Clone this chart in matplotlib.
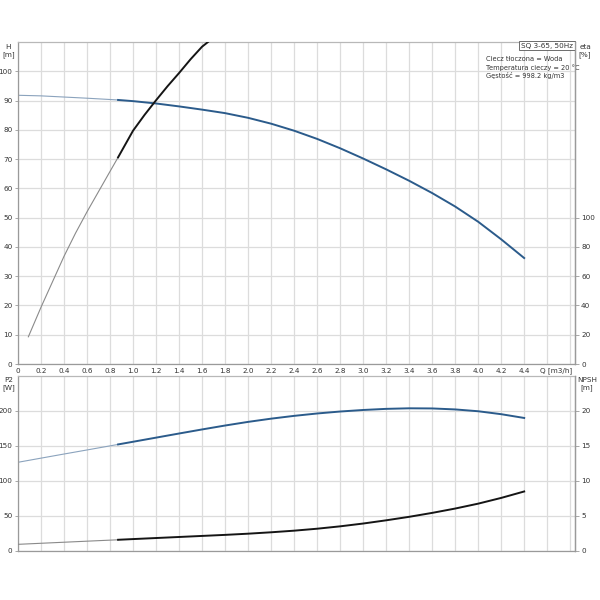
import numpy as np
import matplotlib
matplotlib.use("Agg")
import matplotlib.pyplot as plt

plt.rcParams['font.family'] = ['DejaVu Sans']

# ---------------- data ----------------
# Q-H curve (m)
q_h = [0.0, 0.2, 0.4, 0.6, 0.87, 1.0, 1.2, 1.4, 1.6, 1.8, 2.0, 2.2, 2.4, 2.6,
       2.8, 3.0, 3.2, 3.4, 3.6, 3.8, 4.0, 4.2, 4.4]
h_vals = [91.8, 91.6, 91.2, 90.8, 90.2, 89.8, 89.0, 88.0, 86.9, 85.7, 84.1, 82.1,
          79.7, 76.9, 73.7, 70.2, 66.5, 62.6, 58.4, 53.8, 48.6, 42.6, 36.2]

# efficiency curve (%), right axis of the top panel
q_eta = [0.09, 0.2, 0.4, 0.5, 0.6, 0.8, 0.87, 1.0, 1.1, 1.2, 1.3, 1.4, 1.5, 1.6, 1.7]
eta_vals = [18.6, 38.8, 73.6, 89.4, 104.0, 131.6, 141.2, 159.4, 170.2, 180.2,
            189.8, 198.8, 208.2, 216.8, 223.0]

# power P2 (W)
q_p = [0.0, 0.2, 0.4, 0.6, 0.87, 1.0, 1.2, 1.4, 1.6, 1.8, 2.0, 2.2, 2.4, 2.6,
       2.8, 3.0, 3.2, 3.4, 3.6, 3.8, 4.0, 4.2, 4.4]
p2_vals = [126.7, 132.6, 138.5, 144.3, 152.2, 156.0, 161.9, 167.8, 173.6, 179.2,
           184.4, 189.0, 193.0, 196.4, 199.2, 201.4, 203.0, 203.8, 203.6, 202.2,
           199.6, 195.4, 190.0]

# NPSH (m)
npsh_vals = [0.95, 1.1, 1.25, 1.4, 1.6, 1.7, 1.85, 2.0, 2.15, 2.3, 2.47, 2.67,
             2.9, 3.18, 3.52, 3.92, 4.38, 4.88, 5.44, 6.06, 6.76, 7.58, 8.5]

q_split = 0.87  # start of the recommended (thick) range

x_ticks = [round(0.2 * i, 1) for i in range(25)]
x_labels = ["0" if v == 0 else (f"{v:.1f}" if v <= 4.4 else "") for v in x_ticks]
h_ticks = list(range(0, 101, 10))
eta_ticks = list(range(0, 101, 20))
p2_ticks = [0, 50, 100, 150, 200]
npsh_ticks = [0, 5, 10, 15, 20]

# ---------------- style ----------------
BLUE = '#2b5b8b'
BLUE_THIN = '#8ba3bd'
BLACK = '#151515'
GREY_THIN = '#8a8a8a'
GRID = '#dcdcdc'
SPINE = '#9a9a9a'
TXT = '#333333'
FS = 5.2


def split(q, v):
    q = np.asarray(q); v = np.asarray(v)
    a = q <= q_split + 1e-9
    b = q >= q_split - 1e-9
    return (q[a], v[a]), (q[b], v[b])


def style_axes(ax):
    ax.set_xlim(0, 4.84)
    ax.set_xticks(x_ticks)
    ax.grid(True, color=GRID, linewidth=0.9)
    ax.set_axisbelow(True)
    for s in ax.spines.values():
        s.set_color(SPINE)
        s.set_linewidth(0.9)
    ax.spines['top'].set_color('#b8b8b8')
    ax.tick_params(axis='both', labelsize=FS, colors=TXT, length=2.5,
                   width=0.6, pad=1.5)
    ax.tick_params(axis='both', color=SPINE)


fig = plt.figure(figsize=(6, 6), dpi=100)

# ---------------- top panel ----------------
ax1 = fig.add_axes([0.03, 0.3933, 0.928, 0.5367])
style_axes(ax1)
ax1.set_ylim(0, 110)
ax1.set_yticks(h_ticks)
ax1.set_xticklabels(x_labels)
ax1.tick_params(axis='x', length=0, pad=3)

(ta, va), (tb, vb) = split(q_h, h_vals)
ax1.plot(ta, va, color=BLUE_THIN, lw=0.8, solid_joinstyle='round')
ax1.plot(tb, vb, color=BLUE, lw=1.4, solid_joinstyle='round')

ax1b = ax1.twinx()
ax1b.set_ylim(0, 220)
ax1b.set_yticks(eta_ticks)
for s in ax1b.spines.values():
    s.set_visible(False)
ax1b.spines['right'].set_visible(True)
ax1b.spines['right'].set_color(SPINE)
ax1b.spines['right'].set_linewidth(0.9)
ax1b.tick_params(axis='y', labelsize=FS, colors=TXT, length=3, width=0.6, pad=1.5)
ax1b.tick_params(axis='y', color=SPINE)
(ta, va), (tb, vb) = split(q_eta, eta_vals)
ax1b.plot(ta, va, color=GREY_THIN, lw=0.8, solid_joinstyle='round')
ax1b.plot(tb, vb, color=BLACK, lw=1.4, solid_joinstyle='round')

fig.text(0.014, 0.927, "H\n[m]", fontsize=FS, color=TXT, ha='center', va='top',
         linespacing=1.3)
fig.text(0.975, 0.927, "eta\n[%]", fontsize=FS, color=TXT, ha='center', va='top',
         linespacing=1.3)
fig.text(0.953, 0.383, "Q [m3/h]", fontsize=FS, color=TXT, ha='right', va='center')

ax1.text(0.997, 0.998, "SQ 3-65, 50Hz", transform=ax1.transAxes, fontsize=FS,
         color=TXT, ha='right', va='top',
         bbox=dict(boxstyle='square,pad=0.25', fc='white', ec='#555555', lw=0.6))
ax1.text(0.84, 0.955, "Ciecz tłoczona = Woda\nTemperatura cieczy = 20 °C\nGęstość = 998.2 kg/m3",
         transform=ax1.transAxes, fontsize=4.8, color=TXT, ha='left', va='top',
         linespacing=1.25)

# ---------------- bottom panel ----------------
ax2 = fig.add_axes([0.03, 0.0817, 0.928, 0.2917])
style_axes(ax2)
ax2.set_ylim(0, 250)
ax2.set_yticks(p2_ticks)
ax2.set_xticklabels([])
ax2.tick_params(axis='x', length=0)

(ta, va), (tb, vb) = split(q_p, p2_vals)
ax2.plot(ta, va, color=BLUE_THIN, lw=0.8, solid_joinstyle='round')
ax2.plot(tb, vb, color=BLUE, lw=1.4, solid_joinstyle='round')

ax2b = ax2.twinx()
ax2b.set_ylim(0, 25)
ax2b.set_yticks(npsh_ticks)
for s in ax2b.spines.values():
    s.set_visible(False)
ax2b.spines['right'].set_visible(True)
ax2b.spines['right'].set_color(SPINE)
ax2b.spines['right'].set_linewidth(0.9)
ax2b.tick_params(axis='y', labelsize=FS, colors=TXT, length=3, width=0.6, pad=1.5)
ax2b.tick_params(axis='y', color=SPINE)
(ta, va), (tb, vb) = split(q_p, npsh_vals)
ax2b.plot(ta, va, color=GREY_THIN, lw=0.8, solid_joinstyle='round')
ax2b.plot(tb, vb, color=BLACK, lw=1.4, solid_joinstyle='round')

fig.text(0.014, 0.372, "P2\n[W]", fontsize=FS, color=TXT, ha='center', va='top',
         linespacing=1.3)
fig.text(0.978, 0.372, "NPSH\n[m]", fontsize=FS, color=TXT, ha='center', va='top',
         linespacing=1.3)

fig.savefig("out.png", dpi=100, facecolor='white')
